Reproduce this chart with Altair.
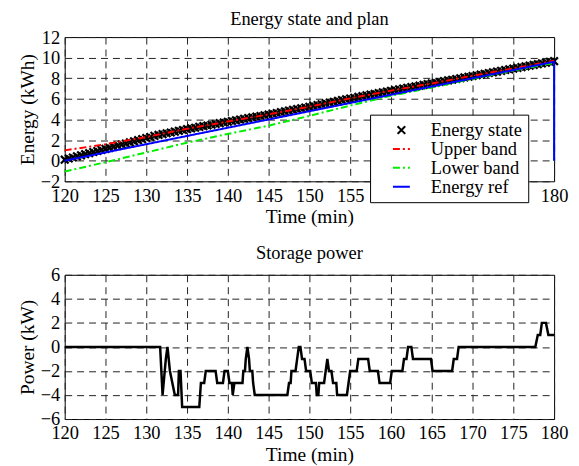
import altair as alt
import pandas as pd

FONT = "Liberation Serif"

# ---------------- top panel data ----------------
series_names = ["Energy state", "Upper band", "Lower band", "Energy ref"]
series_colors = ["#000000", "#ff0000", "#00ee00", "#0000ff"]

state_t = [120 + 0.5 * i for i in range(121)]
state_e = [
    0.10, 0.21, 0.31, 0.42, 0.52, 0.63, 0.73, 0.84, 0.94, 1.05,
    1.15, 1.25, 1.36, 1.46, 1.57, 1.67, 1.78, 1.88, 1.99, 2.09,
    2.20, 2.30, 2.41, 2.50, 2.58, 2.66, 2.74, 2.82, 2.90, 2.98,
    3.06, 3.13, 3.20, 3.28, 3.35, 3.42, 3.49, 3.56, 3.64, 3.71,
    3.78, 3.85, 3.92, 3.99, 4.06, 4.13, 4.20, 4.27, 4.34, 4.41,
    4.48, 4.56, 4.63, 4.71, 4.78, 4.86, 4.94, 5.01, 5.09, 5.16,
    5.24, 5.32, 5.40, 5.48, 5.56, 5.64, 5.72, 5.80, 5.88, 5.96,
    6.04, 6.11, 6.19, 6.26, 6.34, 6.41, 6.48, 6.56, 6.63, 6.71,
    6.78, 6.85, 6.92, 7.00, 7.07, 7.14, 7.21, 7.28, 7.36, 7.43,
    7.50, 7.57, 7.64, 7.72, 7.79, 7.86, 7.93, 8.00, 8.08, 8.15,
    8.22, 8.29, 8.36, 8.44, 8.51, 8.58, 8.65, 8.72, 8.80, 8.87,
    8.94, 9.01, 9.08, 9.16, 9.23, 9.30, 9.37, 9.44, 9.52, 9.59,
    9.66,
]

upper_t = [120, 125, 130, 135, 140, 145, 150, 155, 160, 165, 170, 175, 180]
upper_e = [1.0, 1.6, 2.3, 3.1, 3.8, 4.5, 5.25, 6.05, 6.8, 7.5, 8.25, 8.95, 9.7]

lower_t = [120, 125, 130, 135, 140, 145, 150, 155, 160, 165, 170, 175, 180, 180]
lower_e = [-1.05, -0.15, 0.8, 1.75, 2.6, 3.4, 4.35, 5.35, 6.3, 7.1, 7.95, 8.75, 9.5, 0.0]

ref_t = [120, 180, 180]
ref_e = [0.0, 9.6, 0.0]

# ---------------- bottom panel data ----------------
power_t = [
    120, 131.7, 132.0, 132.4, 132.6, 132.9, 133.2, 133.5, 133.9, 134.0,
    134.2, 134.4, 136.5, 136.7, 137.1, 137.3, 138.5, 138.7, 139.4, 139.6,
    140.0, 140.2, 140.5, 140.6, 140.8, 141.8, 141.9, 142.1, 142.2, 142.4,
    142.6, 142.7, 143.0, 143.1, 143.3, 147.3, 147.5, 147.7, 147.8, 148.3,
    148.5, 148.7, 148.9, 149.1, 149.4, 149.6, 150.1, 150.3, 150.8, 150.9,
    151.1, 151.2, 151.8, 152.0, 152.2, 152.4, 152.7, 152.9, 153.3, 153.4,
    154.6, 154.8, 155.0, 155.8, 156.0, 157.2, 157.4, 158.4, 158.6, 159.9,
    160.1, 161.4, 161.6, 161.9, 162.1, 162.5, 162.7, 164.9, 165.1, 167.5,
    167.7, 168.1, 168.3, 177.7, 178.0, 178.3, 178.5, 179.0, 179.3, 180.0,
]
power_kw = [
    0, 0, -4, -1, 0, -2, -3, -4, -4, -2,
    -2, -5, -5, -3, -3, -2, -2, -3, -3, -2,
    -2, -3, -3, -4, -3, -3, -2, -2, -1, 0,
    -1, -2, -2, -3, -4, -4, -3, -3, -2, -2,
    -1, 0, 0, -1, -1, -2, -2, -3, -3, -4,
    -4, -3, -3, -2, -1, -2, -2, -3, -3, -4,
    -4, -3, -2, -2, -1, -1, -2, -2, -3, -3,
    -2, -2, -1, -1, 0, 0, -1, -1, -2, -2,
    -1, -1, 0, 0, 1, 1, 2, 2, 1, 1,
]

x_ticks = [120, 125, 130, 135, 140, 145, 150, 155, 160, 165, 170, 175, 180]
y_ticks_top = [-2, 0, 2, 4, 6, 8, 10, 12]
y_ticks_bot = [-6, -4, -2, 0, 2, 4, 6]

# ---------------- build tables ----------------
state_df = pd.DataFrame({"t": state_t, "e": state_e, "series": "Energy state"})
rows = []
for name, ts, es in [("Upper band", upper_t, upper_e),
                     ("Lower band", lower_t, lower_e),
                     ("Energy ref", ref_t, ref_e)]:
    for i, (t, e) in enumerate(zip(ts, es)):
        rows.append({"t": t, "e": e, "series": name, "idx": i})
lines_df = pd.DataFrame(rows)
power_df = pd.DataFrame({"t": power_t, "p": power_kw, "idx": list(range(len(power_t)))})

W, H = 492, 145
SYM = 289  # symbol area: 'stroke' symbols become 17 px long
XMARK = "M-0.45,-0.45L0.45,0.45M-0.45,0.45L0.45,-0.45"

color_scale = alt.Scale(domain=series_names, range=series_colors)
dash_scale = alt.Scale(domain=series_names, range=[[1, 0], [7, 3, 2, 3], [7, 3, 2, 3], [1, 0]])
shape_scale = alt.Scale(domain=series_names, range=[XMARK, "stroke", "stroke", "stroke"])

legend = alt.Legend(
    title=None, orient="none", legendX=307, legendY=78,
    fillColor="white", strokeColor="black", padding=6,
    labelFont=FONT, labelFontSize=18.5, labelFontWeight="normal", labelColor="black",
    symbolOffset=16, labelOffset=20,
    rowPadding=0, symbolStrokeWidth=2, symbolSize=SYM,
    symbolFillColor="transparent",
)

axis_common = dict(labelFont=FONT, labelFontSize=18.5, labelFontWeight="normal",
                   labelColor="black",
                   titleFont=FONT, titleFontSize=19.5, titleFontWeight="normal",
                   titleColor="black")

x_top = alt.X("t:Q", title="Time (min)",
              scale=alt.Scale(domain=[120, 180], nice=False, zero=False),
              axis=alt.Axis(values=x_ticks, **axis_common))
y_top = alt.Y("e:Q", title="Energy (kWh)",
              scale=alt.Scale(domain=[-2, 12], nice=False, zero=False),
              axis=alt.Axis(values=y_ticks_top, **axis_common))

pts = alt.Chart(state_df).mark_point(
    size=SYM, filled=False, strokeWidth=2.2, opacity=1
).encode(
    x=x_top, y=y_top,
    color=alt.Color("series:N", scale=color_scale, legend=legend),
    shape=alt.Shape("series:N", scale=shape_scale, legend=legend),
)

lines = alt.Chart(lines_df).mark_line(strokeWidth=2).encode(
    x=x_top, y=y_top,
    color=alt.Color("series:N", scale=color_scale, legend=legend),
    strokeDash=alt.StrokeDash("series:N", scale=dash_scale, legend=legend),
    order="idx:Q",
)

top = alt.layer(pts, lines).properties(
    width=W, height=H,
    title=alt.TitleParams("Energy state and plan", font=FONT, fontSize=18.5,
                          fontWeight="normal", color="black", offset=0),
)

bottom = alt.Chart(power_df).mark_line(strokeWidth=2.5, color="black").encode(
    x=alt.X("t:Q", title="Time (min)",
            scale=alt.Scale(domain=[120, 180], nice=False, zero=False),
            axis=alt.Axis(values=x_ticks, **axis_common)),
    y=alt.Y("p:Q", title="Power (kW)",
            scale=alt.Scale(domain=[-6, 6], nice=False, zero=False),
            axis=alt.Axis(values=y_ticks_bot, **axis_common)),
    order="idx:Q",
).properties(
    width=W, height=H,
    title=alt.TitleParams("Storage power", font=FONT, fontSize=18.5,
                          fontWeight="normal", color="black", offset=3),
)

chart = alt.vconcat(top, bottom, spacing=17).properties(
    padding={"left": 8, "top": 0, "right": 2, "bottom": 0},
    background="white",
).configure(
    font=FONT
).configure_view(
    stroke="black", strokeWidth=1
).configure_axis(
    labelPadding=5, titlePadding=3, domain=False, ticks=False,
    grid=True, gridColor="#222222", gridDash=[7, 5], gridWidth=1, gridOpacity=1,
    labelFlush=False,
)

chart.save("out.html", embed_options={"renderer": "svg", "actions": False})
